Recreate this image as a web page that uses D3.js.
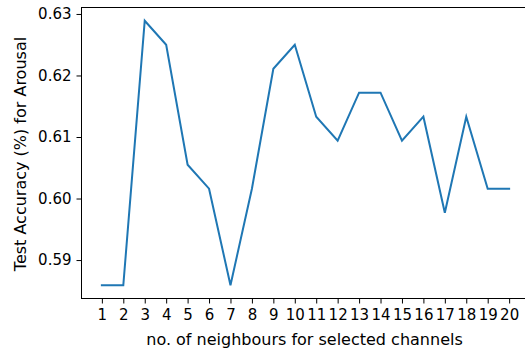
<!DOCTYPE html>
<html>
<head>
<meta charset="utf-8">
<script src="https://cdn.jsdelivr.net/npm/d3@7"></script>
<style>
  html, body { margin: 0; padding: 0; background: #fff; }
  svg { display: block; }
  text { font-family: "DejaVu Sans", sans-serif; fill: #000; }
</style>
</head>
<body>
<svg id="chart" width="525" height="351"></svg>
<script>
// Number of neighbouring channels tried
const neighbours = [1, 2, 3, 4, 5, 6, 7, 8, 9, 10, 11, 12, 13, 14, 15, 16, 17, 18, 19, 20];
// Test accuracy for arousal at each neighbour count
const accuracy = [0.5859, 0.5859, 0.6289, 0.6250, 0.6055, 0.6016, 0.5859, 0.6016, 0.6211, 0.6250,
                  0.6133, 0.6094, 0.6172, 0.6172, 0.6094, 0.6133, 0.5977, 0.6133, 0.6016, 0.6016];
const yTicks = [0.59, 0.60, 0.61, 0.62, 0.63];
const xLabel = "no. of neighbours for selected channels";
const yLabel = "Test Accuracy (%) for Arousal";

const svg = d3.select("#chart");
const plot = { left: 81.5, top: 7.5, right: 529.5, bottom: 298.5 };
const tickFont = 15;
const labelFont = 16;

// 5% padding around the data, as in a default plot
const xPad = (d3.max(neighbours) - d3.min(neighbours)) * 0.05;
const [yMin, yMax] = d3.extent(accuracy);
const yPad = (yMax - yMin) * 0.05;

const x = d3.scaleLinear()
  .domain([d3.min(neighbours) - xPad, d3.max(neighbours) + xPad])
  .range([plot.left, plot.right]);
const y = d3.scaleLinear()
  .domain([yMin - yPad, yMax + yPad])
  .range([plot.bottom, plot.top]);

// frame
svg.append("rect")
  .attr("x", plot.left).attr("y", plot.top)
  .attr("width", plot.right - plot.left).attr("height", plot.bottom - plot.top)
  .attr("fill", "none").attr("stroke", "#000").attr("stroke-width", 1);

// x axis
const xAxis = svg.append("g")
  .attr("transform", `translate(0,${plot.bottom})`)
  .call(d3.axisBottom(x).tickValues(neighbours).tickFormat(d3.format("d")).tickSize(5).tickPadding(6));
xAxis.select(".domain").remove();
xAxis.selectAll("text").attr("font-size", tickFont).attr("font-family", "DejaVu Sans").attr("fill", "#000");
xAxis.selectAll("line").attr("stroke", "#000");

// y axis
const yAxis = svg.append("g")
  .attr("transform", `translate(${plot.left},0)`)
  .call(d3.axisLeft(y).tickValues(yTicks).tickFormat(d3.format(".2f")).tickSize(5).tickPadding(5));
yAxis.select(".domain").remove();
yAxis.selectAll("text").attr("font-size", tickFont).attr("font-family", "DejaVu Sans").attr("fill", "#000");
yAxis.selectAll("line").attr("stroke", "#000");

// accuracy line
const line = d3.line()
  .x((d, i) => x(neighbours[i]))
  .y(d => y(d));
svg.append("path")
  .datum(accuracy)
  .attr("d", line)
  .attr("fill", "none")
  .attr("stroke", "#1f77b4")
  .attr("stroke-width", 2)
  .attr("stroke-linejoin", "miter")
  .attr("stroke-linecap", "square");

// axis titles
svg.append("text")
  .attr("x", 304.5)
  .attr("y", 345)
  .attr("text-anchor", "middle")
  .attr("font-size", labelFont)
  .text(xLabel);

svg.append("text")
  .attr("transform", `translate(25.5,${(plot.top + plot.bottom) / 2 + 1}) rotate(-90)`)
  .attr("text-anchor", "middle")
  .attr("font-size", labelFont)
  .text(yLabel);
</script>
</body>
</html>
